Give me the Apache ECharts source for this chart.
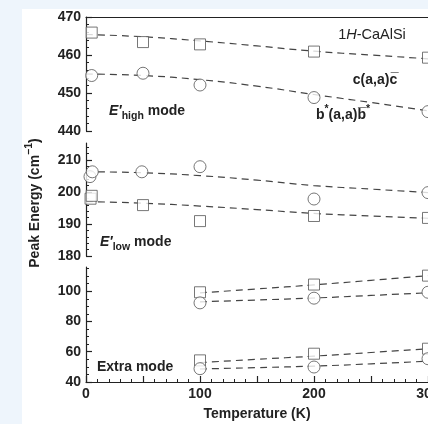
<!DOCTYPE html>
<html><head><meta charset="utf-8">
<script src="https://cdn.jsdelivr.net/npm/echarts@6/dist/echarts.min.js"></script>
<style>html,body{margin:0;padding:0;background:#fff}#c{width:428px;height:424px}</style>
</head><body><div id="c"></div><script>
// ---- data ----
const temps = [5, 50, 100, 200, 300];
const highC = [465.9, 463.4, 462.8, 460.9, 459.3];          // squares, c(a,a)c
const highB = [454.6, 455.2, 452.1, 448.8, 445.1];          // circles, b*(a,a)b*
const lowCT = [4, 5, 50, 100, 200, 300];
const lowC  = [197.9, 198.8, 195.9, 190.9, 192.5, 191.9];   // squares
const lowBT = [3.5, 5.5, 49, 100, 200, 300];
const lowB  = [204.8, 206.3, 206.3, 207.9, 197.8, 199.8];   // circles
const extT  = [100, 200, 300];
const midC  = [99.3, 104.4, 110.3];
const midB  = [92.3, 95.4, 99.3];
const extC  = [54.3, 58.7, 62.0];
const extB  = [48.8, 49.9, 55.4];
// dashed guide curves
const fitT  = [0, 50, 100, 150, 200, 250, 300];
const highCFit = [465.4, 464.8, 463.7, 462.4, 461.0, 460.0, 459.0];
const highBFit = [455.0, 454.6, 453.5, 451.8, 449.6, 447.5, 445.3];
const lowBFit  = [206.3, 206.0, 205.1, 203.7, 202.0, 200.9, 199.8];
const lowCFit  = [197.0, 196.5, 195.6, 194.5, 193.3, 192.5, 191.8];
const fitT2 = [100, 150, 200, 250, 300];
const midCFit = [98.9, 101.5, 104.2, 107.2, 110.3];
const midBFit = [93.0, 94.2, 95.5, 97.2, 99.0];
const extCFit = [52.8, 55.0, 57.1, 59.5, 62.0];
const extBFit = [48.6, 49.5, 50.5, 52.0, 53.8];
// ticks
const xLabels = [0, 100, 200, 300];
const xMajor = [0, 50, 100, 150, 200, 250, 300];
const xMinor = [10,20,30,40,60,70,80,90,110,120,130,140,160,170,180,190,210,220,230,240,260,270,280,290];
const yTopLabels = [440, 450, 460, 470];
const yTopMinor = [442,444,446,448,452,454,456,458,462,464,466,468];
const yMidLabels = [180, 190, 200, 210];
const yMidMinor = [182,184,186,188,192,194,196,198,202,204,206,208,212,214];
const yBotLabels = [40, 60, 80, 100];
const yBotMinor = [45,50,55,65,70,75,85,90,95,105,110,115];

const FONT = "'Liberation Sans', Arial, 'DejaVu Sans', sans-serif";
const INK = '#222';
const MK = '#555';
const zip = (xs, ys) => xs.map((x, i) => [x, ys[i]]);

function yAxes(grid, min, max, labels, minor) {
  return [
    { type: 'value', gridIndex: grid, position: 'left', min, max,
      axisLine: { show: true, lineStyle: { color: INK, width: 1.2 } },
      axisTick: { show: true, inside: true, length: 6, customValues: labels, lineStyle: { color: INK, width: 1.2 } },
      axisLabel: { show: true, customValues: labels, color: INK, fontSize: 14, fontWeight: 'bold', fontFamily: FONT, margin: 5 },
      splitLine: { show: false } },
    { type: 'value', gridIndex: grid, position: 'left', min, max,
      axisLine: { show: false },
      axisTick: { show: true, inside: true, length: 3, customValues: minor, lineStyle: { color: INK, width: 1 } },
      axisLabel: { show: false }, splitLine: { show: false } }
  ];
}

const xBase = { type: 'value', min: 0, max: 300, splitLine: { show: false } };
const xAxis = [
  Object.assign({}, xBase, { gridIndex: 0, position: 'top',
    axisLine: { show: true, lineStyle: { color: INK, width: 1.2 } }, axisTick: { show: false }, axisLabel: { show: false } }),
  Object.assign({}, xBase, { gridIndex: 1, show: false }),
  Object.assign({}, xBase, { gridIndex: 2, position: 'bottom',
    axisLine: { show: true, lineStyle: { color: INK, width: 1.2 } },
    axisTick: { show: true, inside: true, length: 6, customValues: xMajor, lineStyle: { color: INK, width: 1.2 } },
    axisLabel: { show: true, customValues: xLabels, color: INK, fontSize: 14, fontWeight: 'bold', fontFamily: FONT, margin: 5 } }),
  Object.assign({}, xBase, { gridIndex: 2, position: 'bottom',
    axisLine: { show: false },
    axisTick: { show: true, inside: true, length: 3, customValues: xMinor, lineStyle: { color: INK, width: 1 } },
    axisLabel: { show: false } })
];
const yAxis = [].concat(
  yAxes(0, 440, 470, yTopLabels, yTopMinor),
  yAxes(1, 180, 215.3, yMidLabels, yMidMinor),
  yAxes(2, 40, 116, yBotLabels, yBotMinor)
);

function fit(xi, yi, xs, ys) {
  return { type: 'line', xAxisIndex: xi, yAxisIndex: yi, data: zip(xs, ys), smooth: true,
    showSymbol: false, silent: true, z: 2,
    lineStyle: { color: '#444', width: 1.2, type: [7, 5] } };
}
function pts(xi, yi, xs, ys, sym) {
  return { type: 'scatter', xAxisIndex: xi, yAxisIndex: yi, data: zip(xs, ys), symbol: sym,
    symbolSize: sym === 'rect' ? 11 : 12, z: 3,
    itemStyle: { color: '#fff', borderColor: MK, borderWidth: 1 } };
}

const B = { fontFamily: FONT, color: INK, fontWeight: 'bold' };
const rich = {
  n: Object.assign({ fontSize: 14, lineHeight: 22 }, B),
  r: { fontFamily: FONT, color: INK, fontSize: 14.5, lineHeight: 22 },
  ri: { fontFamily: FONT, color: INK, fontSize: 14.5, lineHeight: 22, fontStyle: 'italic' },
  i: Object.assign({ fontSize: 14, lineHeight: 22, fontStyle: 'italic' }, B),
  sub: Object.assign({ fontSize: 10.5, lineHeight: 10, verticalAlign: 'bottom' }, B),
  sup: Object.assign({ fontSize: 10.5, lineHeight: 10, verticalAlign: 'top' }, B)
};
function label(x, y, text, align) {
  return { type: 'text', x, y, z: 10,
    style: { text, rich, textAlign: align || 'left', textVerticalAlign: 'middle', font: 'bold 14px ' + FONT, fill: INK } };
}

const option = {
  animation: false,
  backgroundColor: '#fff',
  grid: [
    { left: 86, right: 0, top: 17, height: 114, outerBoundsMode: 'none' },
    { left: 86, right: 0, top: 143, height: 113, outerBoundsMode: 'none' },
    { left: 86, right: 0, top: 267, height: 115, outerBoundsMode: 'none' }
  ],
  xAxis, yAxis,
  series: [
    fit(0, 0, fitT, highCFit), fit(0, 0, fitT, highBFit),
    fit(1, 2, fitT, lowBFit), fit(1, 2, fitT, lowCFit),
    fit(2, 4, fitT2, midCFit), fit(2, 4, fitT2, midBFit),
    fit(2, 4, fitT2, extCFit), fit(2, 4, fitT2, extBFit),
    pts(0, 0, temps, highC, 'rect'), pts(0, 0, temps, highB, 'circle'),
    pts(1, 2, lowCT, lowC, 'rect'), pts(1, 2, lowBT, lowB, 'circle'),
    pts(2, 4, extT, midC, 'rect'), pts(2, 4, extT, midB, 'circle'),
    pts(2, 4, extT, extC, 'rect'), pts(2, 4, extT, extB, 'circle')
  ],
  graphic: [
    { type: 'rect', shape: { x: 0, y: 0, width: 428, height: 9 }, style: { fill: '#eef5fc' }, z: 0, silent: true },
    { type: 'rect', shape: { x: 0, y: 0, width: 22, height: 424 }, style: { fill: '#eef5fc' }, z: 0, silent: true },
    label(372, 35, '{r|1}{ri|H}{r|-CaAlSi}', 'center'),
    label(375, 80, '{n|c(a,a)c\u0305}', 'center'),
    label(343, 115, '{n|b}{sup|*}{n|(a,a)b\u0305}{sup|*}', 'center'),
    label(109, 111, '{i|E\u2032}{sub|high}{n| mode}'),
    label(100, 242, '{i|E\u2032}{sub|low}{n| mode}'),
    label(97, 367, '{n|Extra mode}'),
    { type: 'text', x: 257, y: 414, z: 10,
      style: { text: 'Temperature (K)', textAlign: 'center', textVerticalAlign: 'middle', font: 'bold 14px ' + FONT, fill: INK } },
    { type: 'text', x: 35, y: 203, rotation: Math.PI / 2, z: 10,
      style: { text: '{n|Peak Energy (cm}{sup|\u22121}{n|)}', rich, textAlign: 'center', textVerticalAlign: 'middle', font: 'bold 14px ' + FONT, fill: INK } }
  ]
};
echarts.init(document.getElementById('c'), null, { renderer: 'canvas' }).setOption(option);
</script></body></html>
